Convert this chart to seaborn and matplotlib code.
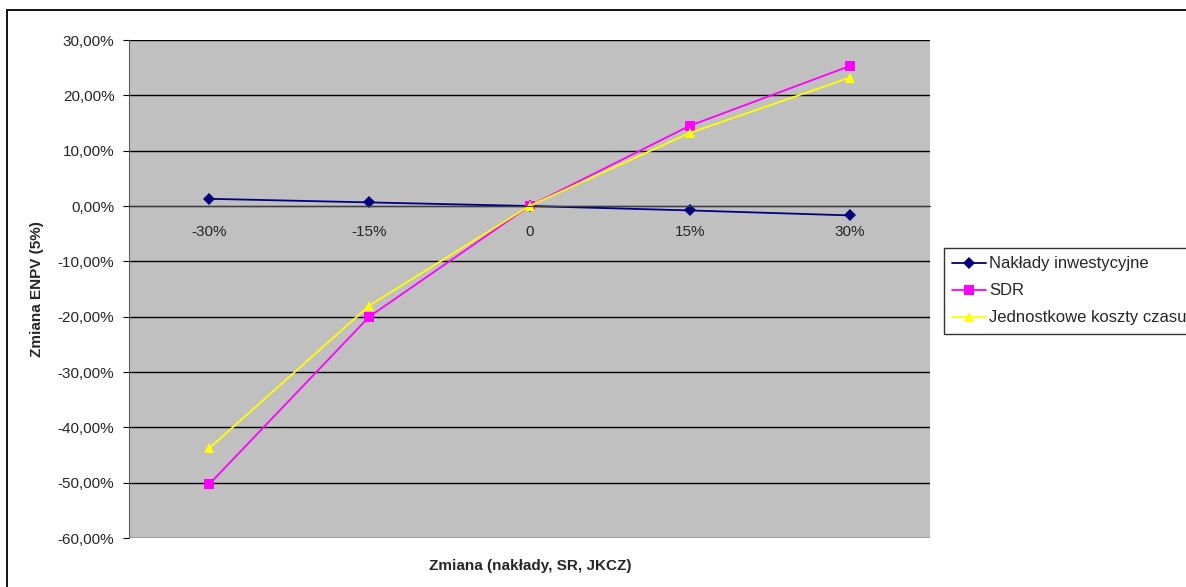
import numpy as np
import pandas as pd
import seaborn as sns
import matplotlib.pyplot as plt
from matplotlib.patches import Rectangle
from matplotlib.ticker import FixedLocator, FuncFormatter

# data (values in %)
categories = ["-30%", "-15%", "0", "15%", "30%"]
naklady = [1.3, 0.65, 0.0, -0.8, -1.7]
sdr = [-50.3, -20.0, 0.0, 14.5, 25.3]
jkcz = [-43.8, -18.0, 0.0, 13.2, 23.2]
series_names = ["Nakłady inwestycyjne", "SDR", "Jednostkowe koszty czasu"]
colors = ["#000080", "#FF00FF", "#FFFF00"]
markers = ["D", "s", "^"]

rows = []
for name, vals in zip(series_names, [naklady, sdr, jkcz]):
    for i, v in enumerate(vals):
        rows.append({"x": i, "y": v, "seria": name})
df = pd.DataFrame(rows)

sns.set_style("white")
plt.rcParams["font.family"] = ["Liberation Sans", "DejaVu Sans"]

fig = plt.figure(figsize=(11.86, 5.87), dpi=100)
ax = fig.add_axes([129 / 1186, 1 - 538 / 587, 801 / 1186, 498 / 587])
ax.set_facecolor("#C0C0C0")

sns.lineplot(data=df, x="x", y="y", hue="seria", style="seria",
             palette=colors, markers=markers, dashes=False,
             markersize=6.5, linewidth=1.3, markeredgewidth=0, ax=ax)

ax.set_xlim(-0.5, 4.5)
ax.set_ylim(-60, 30)
ax.yaxis.set_major_locator(FixedLocator(np.arange(-60, 31, 10)))
ax.yaxis.set_major_formatter(FuncFormatter(lambda v, p: f"{v:.2f}%".replace(".", ",")))
ax.grid(axis="y", color="black", linewidth=1)
ax.set_axisbelow(True)

# x axis crossing at 0, ticks between categories, labels at centres
for s in ["top", "right"]:
    ax.spines[s].set_visible(False)
ax.spines["left"].set_color("#606060")
ax.spines["bottom"].set_position(("data", 0))
ax.spines["bottom"].set_color("#404040")
ax.set_xticks(np.arange(0.5, 4.5, 1))
ax.set_xticklabels([])
ax.set_xticks(range(len(categories)), minor=True)
ax.set_xticklabels(categories, minor=True)
ax.tick_params(axis="x", which="major", direction="in", length=5, color="black")
ax.tick_params(axis="x", which="minor", length=0, pad=14, labelsize=11)
ax.tick_params(axis="y", which="major", direction="out", length=4.5, left=True,
               color="black", labelsize=11, pad=6)

ax.set_xlabel("")
ax.set_ylabel("")
fig.text(530 / 1186, 1 - 566 / 587, "Zmiana (nakłady, SR, JKCZ)", ha="center",
         va="center", fontsize=11, fontweight="bold")
fig.text(37 / 1186, 1 - 289 / 587, "Zmiana ENPV (5%)", ha="center", va="center",
         rotation=90, fontsize=11, fontweight="bold")

handles, labels = ax.get_legend_handles_labels()
leg = fig.legend(handles, labels, loc="upper left",
                 bbox_to_anchor=(944 / 1186, 1 - 248 / 587), fontsize=12,
                 frameon=True, fancybox=False, handlelength=2.0,
                 handletextpad=0.2, borderpad=0.5, labelspacing=0.72,
                 borderaxespad=0)
leg.get_frame().set_edgecolor("black")
leg.get_frame().set_linewidth(1)
ax.get_legend().remove()

# outer chart frame
fig.patches.append(Rectangle((7 / 1186, -0.05), 1.1, 1 - 10 / 587 + 0.05,
                             transform=fig.transFigure, fill=False,
                             edgecolor="black", linewidth=1.3))

fig.savefig("out.png", dpi=100)
